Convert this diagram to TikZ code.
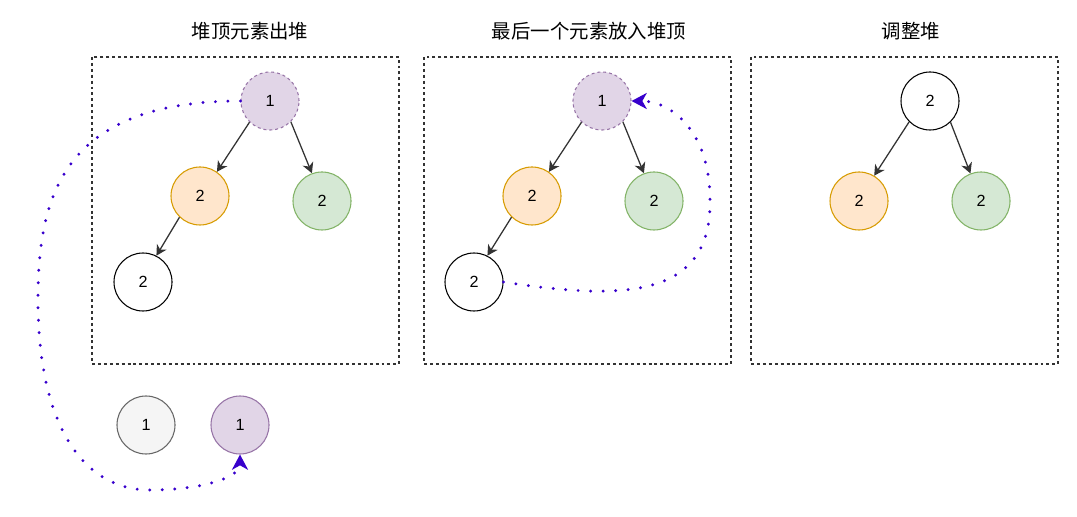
\documentclass[tikz,border=0pt]{standalone}
\usepackage{fontspec}
\usepackage{xcolor}
\usepackage{tikz}
\usetikzlibrary{arrows.meta}
\setmainfont{Liberation Sans}
\newfontfamily\cjk{Noto Sans CJK SC}
\definecolor{purplefill}{HTML}{E1D5E7}
\definecolor{purpleline}{HTML}{9673A6}
\definecolor{orangefill}{HTML}{FFE6CC}
\definecolor{orangeline}{HTML}{D79B00}
\definecolor{greenfill}{HTML}{D5E8D4}
\definecolor{greenline}{HTML}{82B366}
\definecolor{grayfill}{HTML}{F5F5F5}
\definecolor{grayline}{HTML}{666666}
\definecolor{movecolor}{HTML}{3700CC}
\definecolor{edgecolor}{HTML}{333333}
\begin{document}
\begin{tikzpicture}[x=0.025cm, y=-0.025cm,
  every node/.style={font=\fontsize{11.5}{13}\selectfont},
  heapnode/.style={circle, draw, line width=0.75pt, minimum size=1.45cm, inner sep=0pt},
  topnode/.style={heapnode, fill=purplefill, draw=purpleline, dash pattern=on 2.1pt off 2.1pt},
  popnode/.style={heapnode, fill=purplefill, draw=purpleline},
  leftnode/.style={heapnode, fill=orangefill, draw=orangeline},
  rightnode/.style={heapnode, fill=greenfill, draw=greenline},
  oldnode/.style={heapnode, fill=grayfill, draw=grayline},
  panel/.style={draw=edgecolor, line width=0.75pt, dash pattern=on 2.1pt off 2.1pt},
  title/.style={font=\cjk\fontsize{13.8}{16}\selectfont},
  edge/.style={draw=edgecolor, line width=0.9pt, -{Stealth[length=0.26cm, width=0.28cm, inset=0.08cm]}},
  moveline/.style={draw=movecolor, line width=2.3pt, line cap=round, dash pattern=on 0pt off 8.9pt,
    -{Stealth[length=0.38cm, width=0.4cm, inset=0.11cm]}}]
  \useasboundingbox (0,0) rectangle (1077,517);
  % panels
  \draw[panel] (92,57) rectangle (399,364);
  \draw[panel] (424,57) rectangle (731,364);
  \draw[panel] (751,57) rectangle (1058,364);
  \node[title] (title1) at (250,31) {堆顶元素出堆};
  \node[title] (title2) at (589,31) {最后一个元素放入堆顶};
  \node[title] (title3) at (911,31) {调整堆};
  % heap 1
  \node[topnode] (t1) at (270,101) {1};
  \node[leftnode] (o1) at (200,196) {2};
  \node[rightnode] (g1) at (322,201) {2};
  \node[heapnode] (w1) at (143,282) {2};
  \draw[edge] (t1.-134) -- (o1.55);
  \draw[edge] (t1.-45) -- (g1.110);
  \draw[edge] (o1.-134) -- (w1.63);
  % heap 2
  \node[topnode] (t2) at (602,101) {1};
  \node[leftnode] (o2) at (532,196) {2};
  \node[rightnode] (g2) at (654,201) {2};
  \node[heapnode] (w2) at (474,282) {2};
  \draw[edge] (t2.-134) -- (o2.55);
  \draw[edge] (t2.-45) -- (g2.110);
  \draw[edge] (o2.-134) -- (w2.63);
  % heap 3
  \node[heapnode] (t3) at (930,101) {2};
  \node[leftnode] (o3) at (859,201) {2};
  \node[rightnode] (g3) at (981,201) {2};
  \draw[edge] (t3.-135) -- (o3.59);
  \draw[edge] (t3.-46) -- (g3.111);
  % popped elements
  \node[oldnode] (p0) at (146,425) {1};
  \node[popnode] (p1) at (240,425) {1};
  % moves
  \draw[moveline] (t1.west) .. controls (60,101) and (38,200) .. (38,300)
    .. controls (38,420) and (80,490) .. (150,490)
    .. controls (200,490) and (240,478) .. (p1.south);
  \draw[moveline] (w2.east) .. controls (620,300) and (712,300) .. (710,200)
    .. controls (710,130) and (670,101) .. (t2.east);
\end{tikzpicture}
\end{document}
